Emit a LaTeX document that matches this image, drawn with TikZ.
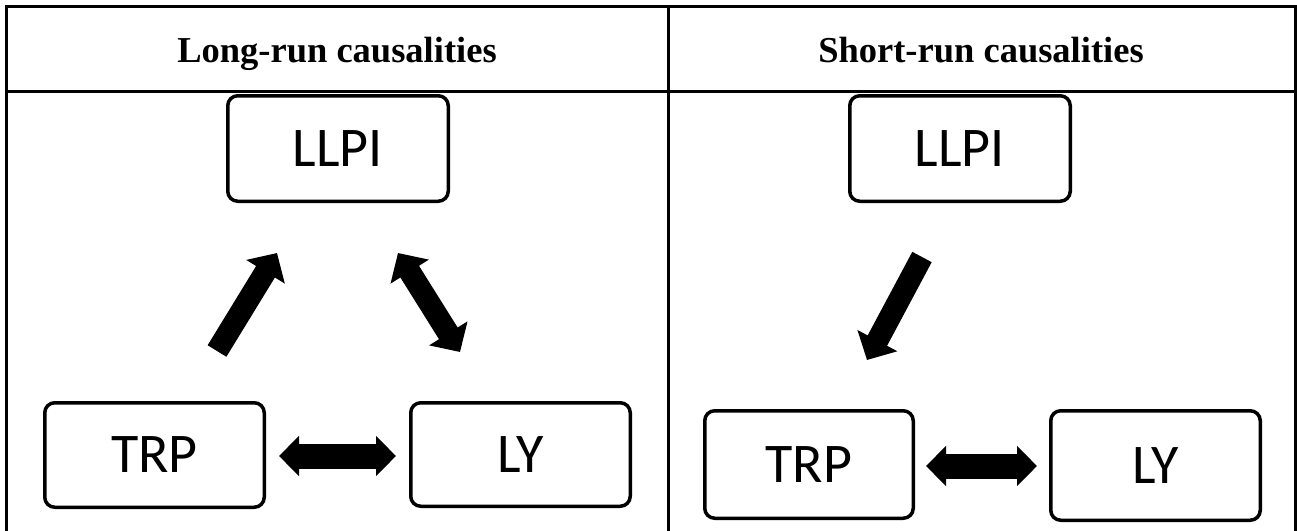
\documentclass[tikz,border=0pt]{standalone}
\usepackage{fontspec}
\setmainfont{Liberation Serif}
\newfontfamily\boxfont{Carlito}
\usetikzlibrary{arrows.meta}
\begin{document}
\begin{tikzpicture}[x=1pt,y=-1pt,
  tbl/.style={line width=3pt, line cap=rect},
  head/.style={font=\fontsize{36.5}{40}\selectfont\bfseries, anchor=base, inner sep=0pt},
  varbox/.style={draw, line width=3.5pt, rounded corners=10pt, inner sep=0pt, outer sep=0pt,
     font=\boxfont\fontsize{56}{60}\selectfont},
  blockarrow/.style={line width=22pt, -{Triangle[length=22pt,width=44pt]}},
  blockdouble/.style={line width=22pt, {Triangle[length=22pt,width=44pt]}-{Triangle[length=22pt,width=44pt]}},
  hdouble/.style={line width=25pt, {Triangle[length=20pt,width=39pt]}-{Triangle[length=20pt,width=39pt]}}
]
\useasboundingbox (0,0) rectangle (1297,530);
\clip (0,0) rectangle (1297,530);
% table
\draw[tbl] (6,545) -- (6,6.5) -- (1295,6.5) -- (1295,545);
\draw[tbl] (6,91.7) -- (1295,91.7);
\draw[tbl] (668,6.5) -- (668,545);
\node[head] (h1) at (337,62) {Long-run causalities};
\node[head] (h2) at (981,62) {Short-run causalities};
% left panel
\node[varbox, minimum width=220.5pt, minimum height=105.5pt] (llpiL) at (338,148.5) {LLPI};
\node[varbox, minimum width=219.5pt, minimum height=104.5pt] (trpL) at (154.5,455) {TRP};
\node[varbox, minimum width=219.5pt, minimum height=103.5pt] (lyL) at (520.5,454.5) {LY};
\coordinate (a1s) at (217,351);
\coordinate (a1e) at (277,253);
\coordinate (a2s) at (398,253);
\coordinate (a2e) at (460,352);
\coordinate (a3s) at (279,456);
\coordinate (a3e) at (396,456);
\draw[blockarrow] (a1s) -- (a1e);
\draw[blockdouble] (a2s) -- (a2e);
\draw[hdouble] (a3s) -- (a3e);
% right panel
\node[varbox, minimum width=220.5pt, minimum height=105.5pt] (llpiR) at (960,148.5) {LLPI};
\node[varbox, minimum width=208.5pt, minimum height=107.5pt] (trpR) at (809,464.5) {TRP};
\node[varbox, minimum width=209.5pt, minimum height=109.5pt] (lyR) at (1155.5,465.5) {LY};
\coordinate (b1s) at (922,257);
\coordinate (b1e) at (867,360);
\coordinate (b2s) at (926,466);
\coordinate (b2e) at (1037,466);
\draw[blockarrow] (b1s) -- (b1e);
\draw[hdouble] (b2s) -- (b2e);
\end{tikzpicture}
\end{document}
